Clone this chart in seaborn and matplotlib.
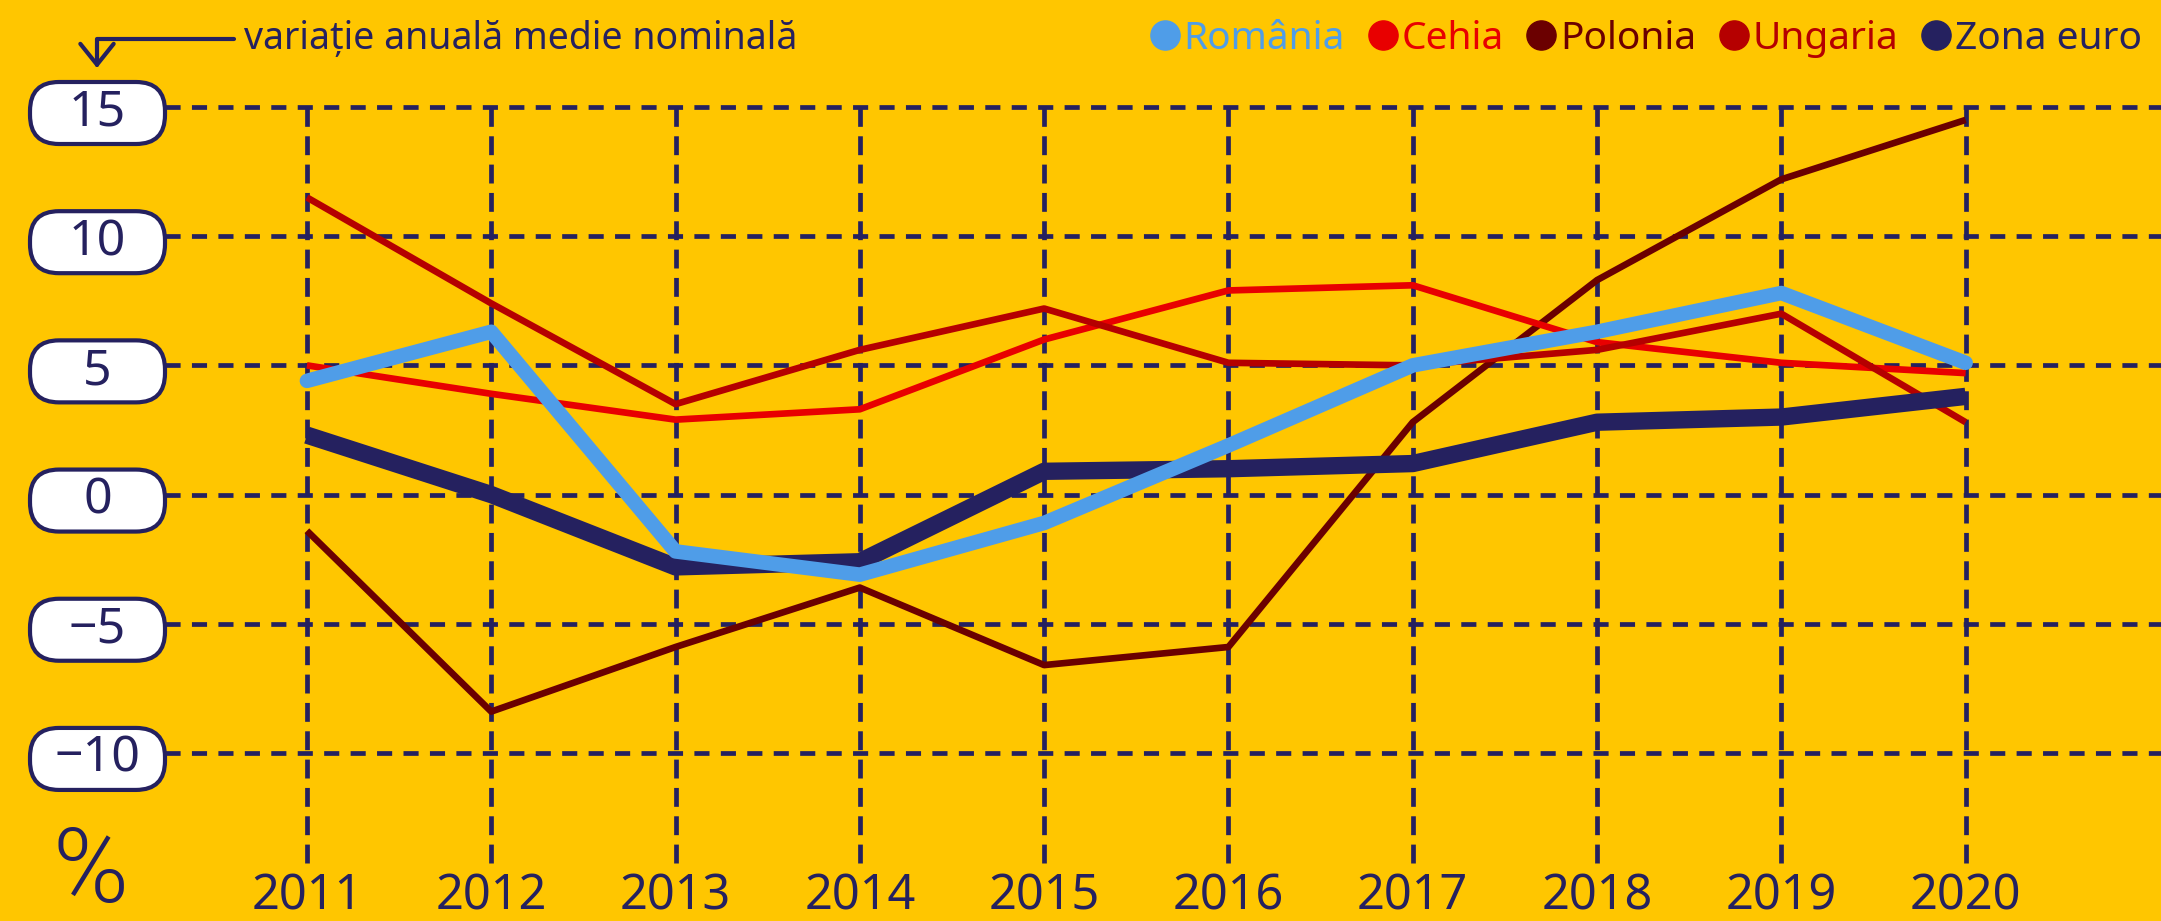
import numpy as np
import pandas as pd
import matplotlib.pyplot as plt
import seaborn as sns
from matplotlib import font_manager
from matplotlib.lines import Line2D
from matplotlib.patches import BoxStyle

# Date (variatie anuala medie nominala, %)
ani = list(range(2011, 2021))
romania = [4.4, 6.3, -2.2, -3.1, -1.1, 1.9, 5.0, 6.3, 7.8, 5.1]
cehia = [5.0, 3.9, 2.9, 3.3, 6.0, 7.9, 8.1, 5.9, 5.1, 4.7]
polonia = [-1.4, -8.4, -5.9, -3.6, -6.6, -5.9, 2.8, 8.3, 12.2, 14.5]
ungaria = [11.5, 7.4, 3.5, 5.6, 7.2, 5.1, 5.0, 5.6, 7.0, 2.8]
zona_euro = [2.3, 0.0, -2.8, -2.6, 0.9, 1.0, 1.2, 2.8, 3.0, 3.8]

tari = ['România', 'Cehia', 'Polonia', 'Ungaria', 'Zona euro']
culori = ['#4f9de8', '#e80000', '#6b0000', '#b50000', '#25215f']
grosimi = [10.5, 4.8, 4.8, 4.8, 12.5]
ordine_desen = ['Polonia', 'Cehia', 'Ungaria', 'Zona euro', 'România']
y_ticks = [15, 10, 5, 0, -5, -10]
y_etichete = ['15', '10', '5', '0', '\u22125', '\u221210']

FUNDAL = '#ffc600'
BLEU = '#25215f'

df = pd.DataFrame({
    'an': ani * len(tari),
    'tara': np.repeat(tari, len(ani)),
    'valoare': romania + cehia + polonia + ungaria + zona_euro,
})

sns.set_style('white')

# font ingust daca exista
fonturi = font_manager.fontManager.ttflist
if any(f.name == 'Noto Sans' and f.stretch == 'condensed' for f in fonturi):
    plt.rcParams['font.family'] = ['Noto Sans', 'DejaVu Sans']
    plt.rcParams['font.stretch'] = 'condensed'
elif any(f.name == 'Liberation Sans Narrow' for f in fonturi):
    plt.rcParams['font.family'] = ['Liberation Sans Narrow', 'DejaVu Sans']
else:
    plt.rcParams['font.family'] = ['Noto Sans', 'DejaVu Sans']

W, H = 2161, 921
fig = plt.figure(figsize=(W / 100, H / 100), dpi=100, facecolor=FUNDAL)
ax = fig.add_axes([165 / W, 1 - 863 / H, 1 - 165 / W, (863 - 107) / H])
ax.set_facecolor(FUNDAL)

sns.lineplot(data=df, x='an', y='valoare', hue='tara', size='tara',
             hue_order=ordine_desen, size_order=ordine_desen,
             palette=dict(zip(tari, culori)), sizes=dict(zip(tari, grosimi)),
             errorbar=None, legend=False, ax=ax)

for linie, tara in zip(ax.lines, ordine_desen):
    linie.set_solid_capstyle('round' if tara == 'România' else 'butt')
    linie.set_zorder(3)

ax.set_xlim(2010.23, 2021.06)
ax.set_ylim(-14.26, 15)
ax.set_xticks(ani)
ax.set_yticks(y_ticks)
ax.set_yticklabels(y_etichete)
ax.set_xlabel('')
ax.set_ylabel('')
sns.despine(ax=ax, left=True, bottom=True)

ax.xaxis.grid(True, color=BLEU, lw=3.4, linestyle=(0, (4.0, 2.0)), clip_on=False)
ax.yaxis.grid(True, color=BLEU, lw=3.4, linestyle=(0, (3.2, 2.4)), clip_on=False)
ax.set_axisbelow(True)

ax.tick_params(axis='x', length=0, labelsize=35, pad=6, colors=BLEU)
ax.tick_params(axis='y', length=0, labelsize=36, pad=48.6, colors=BLEU)


def pastila(x0, y0, width, height, mutation_size):
    # cutie rotunjita de marime fixa, centrata pe eticheta
    cx, cy = x0 + width / 2, y0 + height / 2
    w, h = 135, 62
    return BoxStyle.Round(pad=0, rounding_size=29)(cx - w / 2, cy - h / 2, w, h, 1)


for lab in ax.get_yticklabels():
    lab.set_horizontalalignment('center')
    lab.set_bbox(dict(boxstyle=pastila, fc='white', ec=BLEU, lw=3))

# Legenda
handles = [Line2D([], [], ls='none', marker='o', ms=21, mfc=c, mec=c) for c in culori]
fig.legend(handles, tari, loc='center right', bbox_to_anchor=(1.0, 1 - 39 / H),
           ncol=5, frameon=False, fontsize=28, labelcolor=culori,
           handletextpad=0.1, columnspacing=0.6, handlelength=0.75, borderaxespad=0.1)

# Adnotare sus-stanga
fig.text(244 / W, 1 - 39 / H, 'variație anuală medie nominală', fontsize=27,
         color=BLEU, ha='left', va='center')
ax.annotate('', xy=(97 / W, 1 - 68 / H), xycoords='figure fraction',
            xytext=(234 / W, 1 - 39 / H), textcoords='figure fraction',
            arrowprops=dict(arrowstyle='->,head_length=0.5,head_width=0.4',
                            connectionstyle='angle,angleA=0,angleB=90,rad=0',
                            color=BLEU, lw=3, mutation_scale=30,
                            shrinkA=0, shrinkB=0))

fig.text(90 / W, 1 - 902 / H, '%', fontsize=74, family=['Roboto', 'Noto Sans'],
         fontweight=300, fontstretch='normal', color=BLEU,
         ha='center', va='baseline')

fig.savefig('out.png', dpi=100, facecolor=FUNDAL)
